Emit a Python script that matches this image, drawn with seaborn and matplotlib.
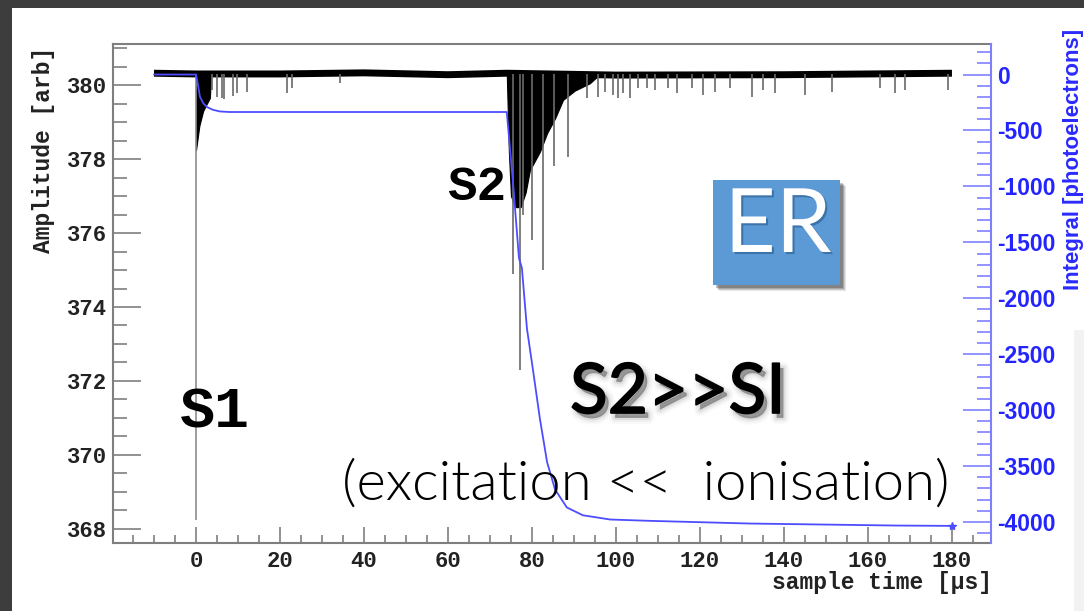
import matplotlib
matplotlib.use("Agg")
import numpy as np
import pandas as pd
import seaborn as sns
import matplotlib.pyplot as plt
import matplotlib.patheffects as pe
from matplotlib.patches import Rectangle
from matplotlib.ticker import MultipleLocator

base_t = [-10, 0, 20, 40, 60, 74, 100, 140, 180]
base_amp = [380.32, 380.30, 380.30, 380.33, 380.28, 380.32, 380.27, 380.28, 380.32]

# dense parts of the pulses: lowest amplitude reached over time
s1_env_t = [0.0, 0.8, 1.7, 2.6, 3.3, 3.6]
s1_env_amp = [378.24, 378.9, 379.3, 379.5, 379.65, 380.3]
s2_env_t = [74.0, 74.5, 75.0, 76.0, 77.3, 78.5, 79.5, 81.9, 83.6, 85.5, 87.4, 90.2, 93.8, 96.2]
s2_env_amp = [380.3, 378.2, 377.0, 376.7, 376.7, 377.1, 377.7, 378.2, 378.7, 379.1,
              379.6, 379.85, 380.05, 380.3]

# isolated single-sample spikes
spike_t = [0.0, 3.8, 5.0, 6.2, 6.7, 8.8, 9.8, 12.1, 21.7, 22.9, 34.3,
           75.5, 77.1, 77.9, 80.0, 82.6, 85.2, 88.6,
           93.1, 95.7, 97.4, 99.3, 100.5, 101.7, 103.3, 105.2, 107.4, 109.3, 112.4,
           114.5, 118.1, 120.7, 123.6, 127.1, 132.4, 135.0, 137.9, 145.0, 151.4,
           162.9, 166.4, 168.8, 179.0]
spike_amp = [368.25, 379.86, 379.68, 379.65, 379.62, 379.7, 379.78, 379.81, 379.78, 379.92, 380.05,
             374.9, 372.3, 376.5, 375.8, 375.0, 377.8, 378.05,
             379.65, 379.68, 379.81, 379.73, 379.65, 379.78, 379.65, 379.92, 379.92, 379.86, 379.92,
             379.78, 379.92, 379.73, 379.81, 379.92, 379.68, 379.86, 379.78, 379.73, 379.81,
             379.92, 379.78, 379.86, 379.86]

# ---- running integral of the trace (photoelectrons)
integ_t = [-10, 0.0, 0.5, 0.95, 1.8, 2.6, 4.0, 5.7, 8.0, 74.0, 75.5, 76.9, 77.6, 78.8,
           80.2, 81.9, 83.6, 85.5, 88.3, 92.1, 98.6, 108.1, 131.9, 166.9, 180.0]
integ_pe = [0, 0, -100, -200, -260, -290, -315, -330, -335, -335, -972, -1640, -1730, -2270,
            -2630, -3080, -3465, -3710, -3870, -3940, -3978, -3990, -4014, -4032, -4035]

left_ticks = [368, 370, 372, 374, 376, 378, 380]
bottom_ticks = [0, 20, 40, 60, 80, 100, 120, 140, 160, 180]
right_ticks = [0, -500, -1000, -1500, -2000, -2500, -3000, -3500, -4000]
right_labels = ["0", "-500", "-1000", "-1500", "-2000", "-2500", "-3000", "-3500", "-4000"]

sns.set_theme(style="white")
plt.rcParams["font.family"] = ["Liberation Mono", "DejaVu Sans"]
plt.rcParams["font.weight"] = "bold"

W, H = 1084, 611
fig = plt.figure(figsize=(W / 100, H / 100), dpi=100)
fig.patch.set_facecolor("#3d3d3d")


def fx(px):
    return px / W


def fy(py):
    return 1 - py / H


# white slide panel
fig.add_artist(Rectangle((fx(12), 0), 1 - fx(12), fy(8), transform=fig.transFigure,
                         facecolor="white", edgecolor="none", zorder=-10))
fig.add_artist(Rectangle((fx(1074), 0), 1 - fx(1074), fy(330), transform=fig.transFigure,
                         facecolor="#f2f2f2", edgecolor="none", zorder=-9))

ax = fig.add_axes([fx(113), fy(543), fx(991) - fx(113), fy(44) - fy(543)])
ax.set_facecolor("white")

wave = pd.DataFrame({"t": base_t, "amp": base_amp})
sns.lineplot(data=wave, x="t", y="amp", ax=ax, color="black", lw=5,
             estimator=None, sort=False, solid_capstyle="butt")
ax.fill_between(s1_env_t, s1_env_amp, 380.3, color="black", lw=0.8)
ax.fill_between(s2_env_t, s2_env_amp, 380.3, color="black", lw=0.8)
spike_colors = ["#8c8c8c"] + ["#6a6a6a"] * (len(spike_t) - 1)
ax.vlines(spike_t, spike_amp, 380.3, colors=spike_colors, lw=1.2)

ax.set_xlim(-19.76, 189.3)
ax.set_ylim(367.62, 381.11)
ax.set_xlabel("")
ax.set_ylabel("")
ax.set_xticks(bottom_ticks)
ax.set_yticks(left_ticks)
ax.xaxis.set_minor_locator(MultipleLocator(5))
ax.yaxis.set_minor_locator(MultipleLocator(0.5))
ax.tick_params(axis="y", which="major", direction="in", length=20, width=1.2,
               color="#7f7f7f", labelsize=16, pad=4.3, labelcolor="#222222", left=True)
ax.tick_params(axis="y", which="minor", direction="in", length=10, width=1.2,
               color="#7f7f7f", left=True)
ax.tick_params(axis="x", which="major", direction="in", length=11.5, width=1.2,
               color="#7f7f7f", labelsize=16, pad=5.5, labelcolor="#222222", bottom=True)
ax.tick_params(axis="x", which="minor", direction="in", length=5.8, width=1.2,
               color="#7f7f7f", bottom=True)
for side in ["left", "bottom", "top"]:
    ax.spines[side].set_color("#7f7f7f")
    ax.spines[side].set_linewidth(1.5)
ax.spines["right"].set_visible(False)

ax2 = ax.twinx()
integ = pd.DataFrame({"t": integ_t, "pe": integ_pe})
sns.lineplot(data=integ, x="t", y="pe", ax=ax2, color="#4d4dff", lw=1.3,
             estimator=None, sort=False)
ax2.plot(integ_t[-1:], integ_pe[-1:], marker="*", ms=6, color="#4d4dff", lw=0)
ax2.set_ylim(-4188, 273)
ax2.set_ylabel("")
ax2.set_yticks(right_ticks)
ax2.set_yticklabels(right_labels, fontfamily="Liberation Sans", fontweight="bold")
ax2.yaxis.set_minor_locator(MultipleLocator(100))
ax2.tick_params(axis="y", which="major", direction="in", length=20, width=1.2,
                color="#8080ff", labelsize=16.5, pad=4.3, labelcolor="#2424ff", right=True)
ax2.tick_params(axis="y", which="minor", direction="in", length=10, width=1.2,
                color="#8080ff", right=True)
for side in ["left", "bottom", "top"]:
    ax2.spines[side].set_visible(False)
ax2.spines["right"].set_color("#8080ff")
ax2.spines["right"].set_linewidth(1.5)

# axis titles
fig.text(fx(44), fy(150), "Amplitude [arb]", rotation=90, ha="center", va="center",
         fontsize=16.5, fontweight="bold", family="Liberation Mono", color="#222222")
fig.text(fx(992), fy(582), "sample time [µs]", ha="right", va="center",
         fontsize=16.5, fontweight="bold", family="Liberation Mono", color="#222222")
fig.text(fx(1073), fy(159), "Integral [photoelectrons]", rotation=90, ha="center",
         va="center", fontsize=16, fontweight="bold", family="Liberation Sans", color="#2a2aff")

# pulse annotations
fig.text(fx(180), fy(427), "S1", ha="left", va="baseline", fontsize=42,
         fontweight="bold", family="Liberation Mono", color="black")
fig.text(fx(447), fy(200), "S2", ha="left", va="baseline", fontsize=35.5,
         fontweight="bold", family="Liberation Mono", color="black")

soft_shadow = [pe.Stroke(linewidth=w, foreground="black", alpha=a, offset=(3, -3.5))
               for w, a in [(9, 0.025), (6, 0.04), (3, 0.07)]]
soft_shadow += [pe.SimplePatchShadow(offset=(3, -3.5), shadow_rgbFace="black", alpha=0.25),
                pe.Stroke(linewidth=1.2, foreground="black"), pe.Normal()]
fig.text(fx(570), fy(413), "S2>>SI", ha="left", va="baseline", fontsize=50,
         fontweight="normal", family="Lato", color="black", path_effects=soft_shadow)
fig.text(fx(646), fy(500), "(excitation <<  ionisation)", ha="center", va="baseline",
         fontsize=40.5, fontweight=300, family="Lato", color="black")

# ER badge with drop shadow
for k, a in enumerate([0.10, 0.12, 0.16, 0.22]):
    d = 6 - k
    fig.add_artist(Rectangle((fx(713 + d), fy(285 + d)), fx(840) - fx(713), fy(180) - fy(285),
                             transform=fig.transFigure, facecolor="black",
                             edgecolor="none", alpha=a, zorder=4))
fig.add_artist(Rectangle((fx(713), fy(285)), fx(840) - fx(713), fy(180) - fy(285),
                         transform=fig.transFigure, facecolor="#5c9ad6",
                         edgecolor="none", zorder=5))
fig.text(fx(778), fy(252), "ER", ha="center", va="baseline", fontsize=64,
         fontweight="normal", family="Lato", color="white", zorder=6,
         path_effects=[pe.SimplePatchShadow(offset=(1.5, -1.5), shadow_rgbFace="#1d4f80",
                                            alpha=0.5), pe.Normal()])

fig.savefig("out.png", dpi=100, facecolor=fig.get_facecolor())
